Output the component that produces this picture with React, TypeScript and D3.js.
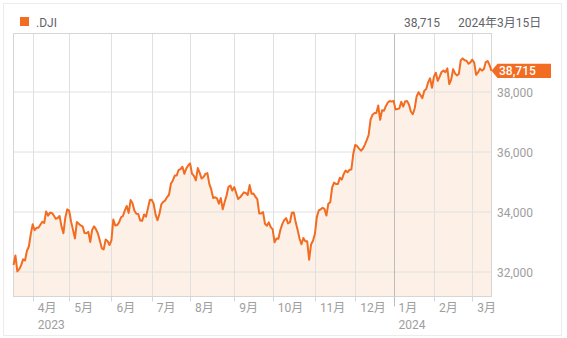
import React from "react";
import * as d3 from "d3";

// Daily closes of .DJI, grouped by calendar month (trading days only)
const mar2023 = [32245, 32561, 32031, 32106, 32238, 32432, 32394, 32718, 32860, 33274];
const apr2023 = [33601, 33402, 33483, 33486, 33587, 33685, 33647, 34030, 33887, 33988, 33977, 33897, 33787, 33809, 33876, 33531, 33302, 33826, 34098];
const may2023 = [34051, 33684, 33414, 33128, 33674, 33619, 33562, 33531, 33309, 33301, 33349, 33012, 33420, 33535, 33427, 33287, 33056, 32800, 32765, 33093, 33043, 32908];
const jun2023 = [33061, 33762, 33563, 33573, 33665, 33833, 33876, 34066, 34212, 33979, 34408, 34299, 34053, 33952, 33946, 33727, 33714, 33927, 33853, 34122, 34408];
const jul2023 = [34418, 34288, 33922, 33734, 33944, 34262, 34347, 34395, 34509, 34585, 34952, 35061, 35225, 35228, 35411, 35438, 35520, 35282, 35459, 35560];
const aug2023 = [35630, 35283, 35216, 35066, 35473, 35315, 35124, 35176, 35281, 35308, 34946, 34766, 34475, 34501, 34463, 34288, 34473, 34099, 34347, 34560, 34852, 34891, 34722];
const sep2023 = [34838, 34642, 34443, 34500, 34577, 34664, 34646, 34576, 34907, 34618, 34624, 34518, 34441, 33964, 33964, 34007, 33619, 33551, 33667, 33508];
const oct2023 = [33433, 33002, 33129, 33120, 33407, 33604, 33739, 33804, 33631, 33670, 33985, 33997, 33665, 33415, 33127, 32936, 33141, 33036, 33035, 32418, 32929, 33053];
const nov2023 = [33275, 33839, 34061, 34095, 34152, 34112, 33891, 34283, 34337, 34828, 34991, 34945, 34947, 35151, 35088, 35273, 35390, 35333, 35417, 35430, 35951];
const dec2023 = [36245, 36204, 36124, 36054, 36117, 36248, 36405, 36577, 37090, 37248, 37306, 37306, 37558, 37083, 37405, 37385, 37545, 37657, 37710, 37690];
const jan2024 = [37715, 37430, 37440, 37466, 37683, 37525, 37696, 37711, 37593, 37361, 37267, 37469, 37864, 38001, 37905, 37807, 38050, 38109, 38333, 38467, 38150];
const feb2024 = [38520, 38654, 38380, 38521, 38678, 38727, 38672, 38797, 38273, 38424, 38773, 38628, 38564, 38612, 39069, 39131, 39069, 39053, 38950, 38996];
const mar2024 = [39087, 38990, 38585, 38661, 38791, 38723, 38770, 39005, 39043, 38906, 38715];

const monthSeries = [mar2023, apr2023, may2023, jun2023, jul2023, aug2023, sep2023, oct2023, nov2023, dec2023, jan2024, feb2024, mar2024];
const monthLabels = ["3月", "4月", "5月", "6月", "7月", "8月", "9月", "10月", "11月", "12月", "1月", "2月", "3月"];
const yearLabels = ["", "2023", "", "", "", "", "", "", "", "", "2024", "", ""];
const yTicks = [32000, 34000, 36000, 38000];

const symbol = ".DJI";
const lastDate = "2024年3月15日";

const W = 567;
const H = 338;
const plot = { left: 13.5, right: 491.5, top: 33.5, bottom: 296.5 };
const FONT = "Roboto, 'Noto Sans CJK JP', sans-serif";
const LINE = "#f26c21";

export default function App() {
  const closes = monthSeries.flat();
  const starts: number[] = [];
  let acc = 0;
  monthSeries.forEach((m) => {
    starts.push(acc);
    acc += m.length;
  });

  const x = d3.scaleLinear().domain([0, closes.length - 1]).range([plot.left, plot.right]);
  const y = d3.scaleLinear().domain([32000, 38000]).range([272.3, 92.3]);

  const line = d3.line<number>().x((_, i) => x(i)).y((d) => y(d)).curve(d3.curveLinear);
  const area = d3.area<number>().x((_, i) => x(i)).y0(plot.bottom).y1((d) => y(d));

  const last = closes[closes.length - 1];
  const yl = y(last);
  const fmt = d3.format(",");
  const snap = (v: number) => Math.round(v) + 0.5;

  return (
    <svg width={W} height={H} style={{ position: "absolute", left: 0, top: 0 }} fontFamily={FONT}>
      <rect x={3.5} y={3.5} width={558} height={332} fill="#fff" stroke="#ececec" />

      {/* header */}
      <rect x={20} y={17} width={9} height={9} fill={LINE} />
      <text x={36} y={26.5} fontSize={12} fill="#5f6368">{symbol}</text>
      <text x={440} y={26.5} fontSize={12} fill="#5f6368" textAnchor="end">{fmt(last)}</text>
      <text x={458} y={26.5} fontSize={12} fill="#5f6368">{lastDate}</text>

      {/* area + grid */}
      <path d={area(closes) ?? ""} fill="#fdf0e6" />
      {yTicks.map((t) => (
        <line key={t} x1={plot.left} x2={plot.right} y1={snap(y(t)) - 0.5} y2={snap(y(t)) - 0.5} stroke="#e0e0e0" />
      ))}
      {starts.map((s, i) =>
        s === 0 ? null : (
          <line
            key={"g" + i}
            x1={snap(x(s))}
            x2={snap(x(s))}
            y1={plot.top}
            y2={plot.bottom}
            stroke={yearLabels[i] === "2024" ? "#bdbdbd" : "#e0e0e0"}
          />
        )
      )}
      <rect x={plot.left} y={plot.top} width={plot.right - plot.left} height={plot.bottom - plot.top} fill="none" stroke="#d6d6d6" />

      <path d={line(closes) ?? ""} fill="none" stroke={LINE} strokeWidth={2} strokeLinejoin="round" />

      {/* x axis */}
      {starts.map((s, i) =>
        s === 0 ? null : (
          <g key={"t" + i}>
            <line
              x1={snap(x(s))}
              x2={snap(x(s))}
              y1={plot.bottom}
              y2={yearLabels[i] === "2024" ? plot.bottom + 10 : plot.bottom + 5}
              stroke={yearLabels[i] === "2024" ? "#bdbdbd" : "#d6d6d6"}
            />
            <text x={x(s) + 5} y={312} fontSize={12} fill="#9e9e9e">{monthLabels[i]}</text>
            {yearLabels[i] && (
              <text x={x(s) + 5} y={329} fontSize={12} fill="#9e9e9e">{yearLabels[i]}</text>
            )}
          </g>
        )
      )}

      {/* y axis labels */}
      {yTicks.map((t) => (
        <text key={"l" + t} x={497} y={y(t)} dy="0.35em" fontSize={12} fill="#9e9e9e">{fmt(t)}</text>
      ))}

      {/* last value tag */}
      <path
        d={`M${plot.right},${yl} L${plot.right + 6},${yl - 7.2} L551,${yl - 7.2} L551,${yl + 7.2} L${plot.right + 6},${yl + 7.2} Z`}
        fill={LINE}
      />
      <text x={499} y={yl} dy="0.36em" fontSize={12} fontWeight={500} fill="#fff">{fmt(last)}</text>
    </svg>
  );
}
